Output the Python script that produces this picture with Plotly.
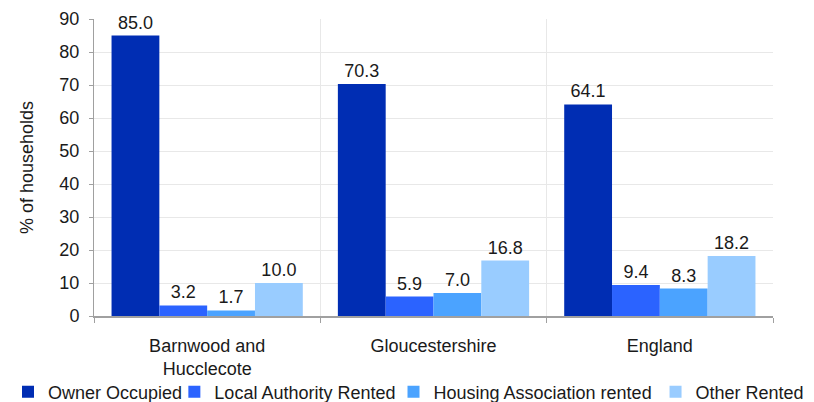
import plotly.graph_objects as go

categories = ["Barnwood and<br>Hucclecote", "Gloucestershire", "England"]
series_names = ["Owner Occupied", "Local Authority Rented", "Housing Association rented", "Other Rented"]
owner = [85.0, 70.3, 64.1]
local = [3.2, 5.9, 9.4]
housing = [1.7, 7.0, 8.3]
other = [10.0, 16.8, 18.2]
colors = ["#002DB3", "#2B63FF", "#4BA3FF", "#99CCFF"]
y_ticks = [0, 10, 20, 30, 40, 50, 60, 70, 80, 90]
legend_ids = ["legend", "legend2", "legend3", "legend4"]
legend_x = [0.0, 0.2064, 0.4783, 0.8034]

FONT = "Liberation Sans, Arial, sans-serif"
fig = go.Figure()
for name, vals, col, lid in zip(series_names, [owner, local, housing, other], colors, legend_ids):
    fig.add_trace(go.Bar(
        x=categories, y=vals, name=name, marker=dict(color=col, line=dict(width=0)),
        text=[f"{v:.1f}" for v in vals], textposition="outside", cliponaxis=False,
        textfont=dict(size=18, color="#1a1a1a"), constraintext="none", hoverinfo="skip",
        legend=lid,
    ))

legend_style = dict(orientation="h", xref="container", yref="container", y=0.0254,
                    xanchor="left", yanchor="middle", font=dict(size=18),
                    itemwidth=30, bgcolor="rgba(0,0,0,0)")

# the page body has an 8px margin, so the figure is sized to fit the 814x402 window
fig.update_layout(
    width=806, height=394,
    margin=dict(l=86, r=41, t=11, b=86),
    barmode="group", bargap=0.155, bargroupgap=0,
    plot_bgcolor="white", paper_bgcolor="white",
    font=dict(family=FONT, size=18, color="#1a1a1a"),
    showlegend=True,
    legend=dict(x=legend_x[0], **legend_style),
    legend2=dict(x=legend_x[1], **legend_style),
    legend3=dict(x=legend_x[2], **legend_style),
    legend4=dict(x=legend_x[3], **legend_style),
)
fig.update_yaxes(range=[0, 90], tickvals=y_ticks, showgrid=True, gridcolor="#E8E8E8", gridwidth=1,
                 showline=True, linecolor="#A0A0A0", linewidth=1, ticks="outside", ticklen=4,
                 tickcolor="#A0A0A0", title=dict(text="% of households", font=dict(size=18), standoff=21),
                 tickfont=dict(size=18), zeroline=False, automargin=False, ticklabelstandoff=6)
fig.update_xaxes(type="category", tickson="boundaries", showgrid=True, gridcolor="#E8E8E8",
                 showline=True, linecolor="#A0A0A0", linewidth=2, ticks="outside", ticklen=5,
                 tickcolor="#A0A0A0", tickfont=dict(size=18), automargin=False, ticklabelstandoff=12)

fig.write_html("out.html")
